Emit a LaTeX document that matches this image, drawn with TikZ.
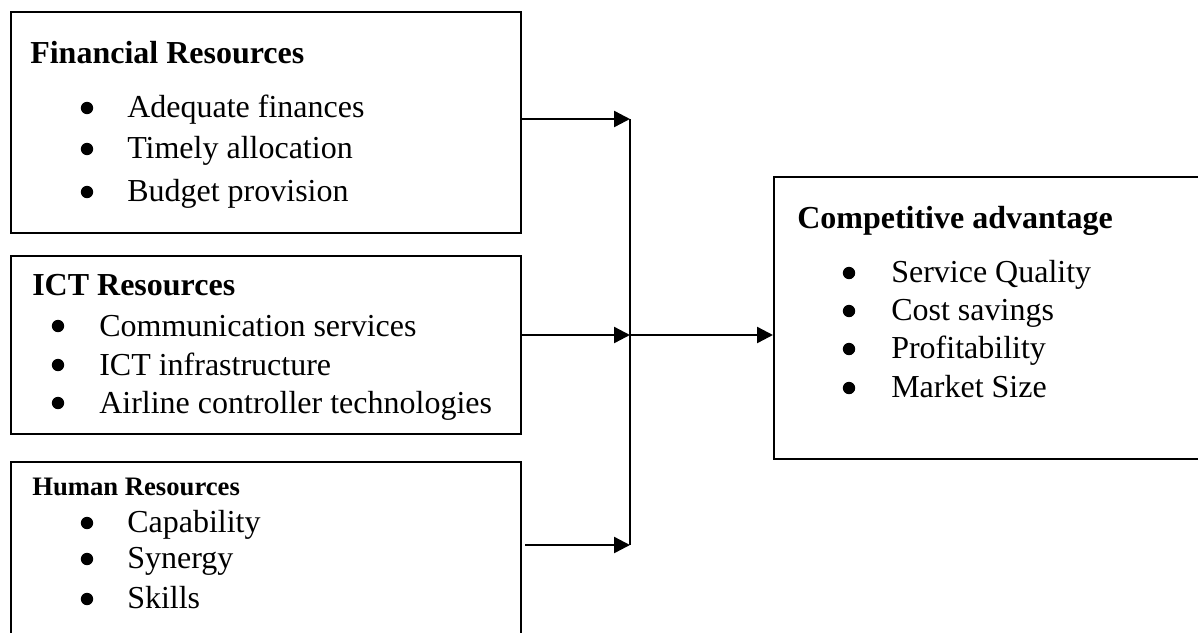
\documentclass[tikz,border=0pt]{standalone}
\usepackage{fontspec}
\setmainfont{Liberation Serif}
\usetikzlibrary{arrows.meta}
\begin{document}
\begin{tikzpicture}[x=0.75pt,y=-0.75pt,
  box/.style={draw=black,line width=1.5pt,fill=none,inner sep=0pt,anchor=north west},
  ttl/.style={anchor=base west,inner sep=0pt,font=\fontsize{24}{28}\selectfont\bfseries},
  ttlsmall/.style={anchor=base west,inner sep=0pt,font=\fontsize{20}{24}\selectfont\bfseries},
  item/.style={anchor=base west,inner sep=0pt,font=\fontsize{24}{28}\selectfont},
  bul/.style={circle,fill=black,inner sep=0pt,minimum size=9.3pt},
  conn/.style={line width=1.8pt,-{Triangle[length=12pt,width=12pt]}},
  vline/.style={line width=1.2pt}]
\useasboundingbox (0,0) rectangle (1198,632);
\clip (0,0) rectangle (1198,632);
% boxes
\node[box,minimum width=510*0.75pt,minimum height=221*0.75pt] (fin) at (10,11) {};
\node[box,minimum width=510*0.75pt,minimum height=178*0.75pt] (ict) at (10,255) {};
\node[box,minimum width=510*0.75pt,minimum height=200*0.75pt] (hum) at (10,461) {};
\node[box,minimum width=450*0.75pt,minimum height=282*0.75pt] (comp) at (773,176) {};
% Financial
\node[ttl] (fint) at (30,63) {Financial Resources};
\node[bul] (fb1) at (87,108) {}; \node[item] (fi1) at (127,117) {Adequate finances};
\node[bul] (fb2) at (87,149) {}; \node[item] (fi2) at (127,158) {Timely allocation};
\node[bul] (fb3) at (87,192) {}; \node[item] (fi3) at (127,201) {Budget provision};
% ICT
\node[ttl] (ictt) at (32,295) {ICT Resources};
\node[bul] (ib1) at (58,326) {}; \node[item] (ii1) at (99,336) {Communication services};
\node[bul] (ib2) at (58,365) {}; \node[item] (ii2) at (99,375) {ICT infrastructure};
\node[bul] (ib3) at (58,403) {}; \node[item] (ii3) at (99,413) {Airline controller technologies};
% Human
\node[ttlsmall] (humt) at (32,495) {Human Resources};
\node[bul] (hb1) at (87,523) {}; \node[item] (hi1) at (127,532) {Capability};
\node[bul] (hb2) at (87,559) {}; \node[item] (hi2) at (127,568) {Synergy};
\node[bul] (hb3) at (87,599) {}; \node[item] (hi3) at (127,608) {Skills};
% Competitive
\node[ttl] (compt) at (797,228) {Competitive advantage};
\node[bul] (cb1) at (849,273) {}; \node[item] (ci1) at (891,282) {Service Quality};
\node[bul] (cb2) at (849,311) {}; \node[item] (ci2) at (891,320) {Cost savings};
\node[bul] (cb3) at (849,349) {}; \node[item] (ci3) at (891,358) {Profitability};
\node[bul] (cb4) at (849,388) {}; \node[item] (ci4) at (891,397) {Market Size};
% junction
\coordinate (j1) at (630,119);
\coordinate (j2) at (630,335);
\coordinate (j3) at (630,545);
\draw[vline] (j1) -- (j3);
\draw[conn] (fin.east |- j1) -- (j1);
\draw[conn] (ict.east |- j2) -- (j2);
\draw[conn] ([xshift=2.25pt]hum.east |- j3) -- (j3);
\draw[conn] (j2) -- (comp.west |- j2);
\end{tikzpicture}
\end{document}
